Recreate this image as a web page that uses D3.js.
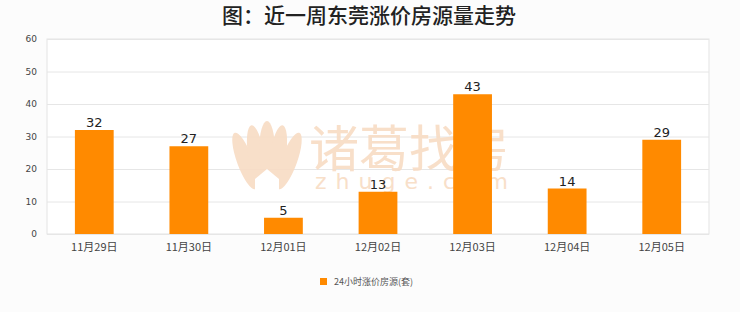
<!DOCTYPE html>
<meta charset="utf-8">
<style>
body { margin: 0; background: #fcfcfc; }
svg { display: block; font-family: "Noto Sans CJK SC", "DejaVu Sans", sans-serif; }
.grid line { stroke: #e6e6e6; }
.axis text { fill: #444; }
</style>
<svg width="740" height="312"></svg>
<script src="https://d3js.org/d3.v7.min.js"></script>
<script>

// Data
var days = ["11月29日", "11月30日", "12月01日", "12月02日", "12月03日", "12月04日", "12月05日"];
var counts = [32, 27, 5, 13, 43, 14, 29];
var yTicks = [0, 10, 20, 30, 40, 50, 60];
var seriesName = "24小时涨价房源(套)";

var svg = d3.select("svg"),
    margin = {top: 39, right: 31, bottom: 78, left: 47},
    width = +svg.attr("width") - margin.left - margin.right,
    height = +svg.attr("height") - margin.top - margin.bottom;

svg.append("rect").attr("width", 740).attr("height", 312).attr("fill", "#fcfcfc");

// Title
svg.append("text")
    .attr("x", 369).attr("y", 23)
    .attr("text-anchor", "middle")
    .attr("font-size", 21)
    .attr("font-weight", 500)
    .attr("fill", "#222")
    .text("图：近一周东莞涨价房源量走势");

var g = svg.append("g").attr("transform", "translate(" + margin.left + "," + margin.top + ")");

var x = d3.scaleBand().domain(days).range([0, width]).paddingInner(0.59).paddingOuter(0.295);
var y = d3.scaleLinear().domain([0, 60]).range([height, 0]);

// Plot frame and grid
g.append("rect")
    .attr("width", width).attr("height", height)
    .attr("fill", "#fff").attr("stroke", "#e3e3e3");

g.append("g").attr("class", "grid")
    .selectAll("line").data(yTicks).enter().append("line")
    .attr("x1", 0).attr("x2", width)
    .attr("y1", function(d) { return y(d) + 0.5; })
    .attr("y2", function(d) { return y(d) + 0.5; });

// Watermark
var wm = g.append("g").attr("fill", "#f8dcc4").attr("opacity", 0.9);
var petals = [[-22, 10, -0.35], [-11, 4, -0.15], [0, 0, 0], [11, 4, 0.15], [22, 10, 0.35]];
petals.forEach(function(p) {
  wm.append("ellipse")
      .attr("cx", 0).attr("cy", 0).attr("rx", 8).attr("ry", 30)
      .attr("transform", "translate(" + (220 + p[0]) + "," + (112 + p[1]) + ") rotate(" + (p[2] * 57.3) + ")");
});
wm.append("path")
    .attr("d", "M208,140 L220,130 L232,140 L232,152 L208,152 Z")
    .attr("fill", "#fff");
wm.append("text")
    .attr("x", 262).attr("y", 128)
    .attr("font-size", 50)
    .attr("font-family", "Noto Sans CJK SC")
    .text("诸葛找房");
wm.append("text")
    .attr("x", 268).attr("y", 150)
    .attr("font-size", 22)
    .attr("letter-spacing", 9)
    .attr("font-family", "DejaVu Sans")
    .text("zhuge.com");

// Bars
g.selectAll(".bar").data(counts).enter().append("rect")
    .attr("class", "bar")
    .attr("x", function(d, i) { return x(days[i]); })
    .attr("y", function(d) { return y(d); })
    .attr("width", x.bandwidth())
    .attr("height", function(d) { return height - y(d); })
    .attr("fill", "#ff8a00");

// Value labels
g.selectAll(".val").data(counts).enter().append("text")
    .attr("class", "val")
    .attr("x", function(d, i) { return x(days[i]) + x.bandwidth() / 2; })
    .attr("y", function(d) { return y(d) - 3; })
    .attr("text-anchor", "middle")
    .attr("font-size", 13)
    .attr("font-family", "DejaVu Sans")
    .attr("fill", "#222")
    .text(function(d) { return d; });

// Y axis labels
g.append("g").attr("class", "axis")
    .selectAll("text").data(yTicks).enter().append("text")
    .attr("x", -10)
    .attr("y", function(d) { return y(d) + 3; })
    .attr("text-anchor", "end")
    .attr("font-size", 9)
    .attr("font-family", "DejaVu Sans")
    .text(function(d) { return d; });

// X axis labels
g.append("g").attr("class", "axis")
    .selectAll("text").data(days).enter().append("text")
    .attr("x", function(d) { return x(d) + x.bandwidth() / 2; })
    .attr("y", height + 17)
    .attr("text-anchor", "middle")
    .attr("font-size", 11)
    .attr("font-family", "Noto Sans CJK SC")
    .attr("fill", "#333")
    .text(function(d) { return d; });

// Legend
var lg = svg.append("g").attr("transform", "translate(320,278)");
lg.append("rect").attr("width", 7).attr("height", 7).attr("fill", "#ff8a00");
lg.append("text")
    .attr("x", 14).attr("y", 7)
    .attr("font-size", 9)
    .attr("fill", "#555")
    .text(seriesName);

</script>
